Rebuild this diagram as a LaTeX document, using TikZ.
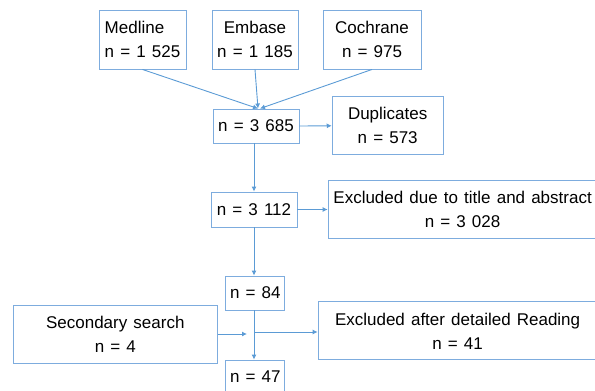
\documentclass[tikz,border=0pt]{standalone}
\usepackage{fontspec}
\setmainfont{Liberation Sans}
\usetikzlibrary{arrows.meta}
\definecolor{boxblue}{RGB}{125,172,222}
\definecolor{lineblue}{RGB}{91,155,213}
\newcommand{\flowfont}{\fontsize{17}{24}\selectfont\fontdimen2\font=0.36em\relax}
\tikzset{
  box/.style={draw=boxblue,line width=0.9pt,rectangle,inner sep=0pt,align=center,font=\flowfont},
  arr/.style={draw=lineblue,line width=0.9pt,-{Latex[length=5pt,width=5pt]}}
}
\begin{document}
\begin{tikzpicture}[x=1pt,y=-1pt]

	\useasboundingbox (0,0) rectangle (595,391);

	% databases
	\node[box,align=left,minimum width=87,minimum height=59] (medline) at (142.5,39.5) {Medline\\n = 1 525};
	\node[box,minimum width=86,minimum height=59] (embase) at (255,39.5) {Embase\\n = 1 185};
	\node[box,minimum width=98,minimum height=59] (cochrane) at (372,39.5) {Cochrane\\n = 975};

	% screening
	\node[box,minimum width=86,minimum height=34] (total) at (256,126) {n = 3 685};
	\node[box,minimum width=111,minimum height=58] (dup) at (387.7,125.8) {Duplicates\\n = 573};
	\node[box,minimum width=86,minimum height=35] (unique) at (254,209.5) {n = 3 112};
	\node[box,minimum width=269,minimum height=58] (exclA) at (462.6,209.2) {Excluded due to title and abstract\\n = 3 028};
	\node[box,minimum width=59,minimum height=34] (fulltext) at (255.3,293) {n = 84};
	\node[box,minimum width=204,minimum height=58] (second) at (115.3,334) {Secondary search\\n = 4};
	\node[box,minimum width=279,minimum height=58] (exclB) at (457.6,330.9) {Excluded after detailed Reading\\n = 41};
	\node[box,minimum width=59,minimum height=34] (final) at (255.3,377) {n = 47};

	% connectors
	\draw[arr] (medline.south) -- ([xshift=2pt]total.north);
	\draw[arr] (embase.south) -- ([xshift=2pt]total.north);
	\draw[arr] (cochrane.south) -- ([xshift=4pt]total.north);
	\draw[arr] (total.east) -- (dup.west);
	\draw[arr] (total.south -| unique.north) -- (unique.north);
	\draw[arr] (unique.east) -- (unique.east -| exclA.west);
	\draw[arr] (unique.south) -- (unique.south |- fulltext.north);
	\draw[arr] (unique.south |- fulltext.south) -- (unique.south |- final.north);
	\coordinate (meet) at (247,334);
	\coordinate (split) at (254,332);
	\draw[arr] (second.east |- meet) -- (meet);
	\draw[arr] (split) -- (split -| exclB.west);

\end{tikzpicture}
\end{document}
